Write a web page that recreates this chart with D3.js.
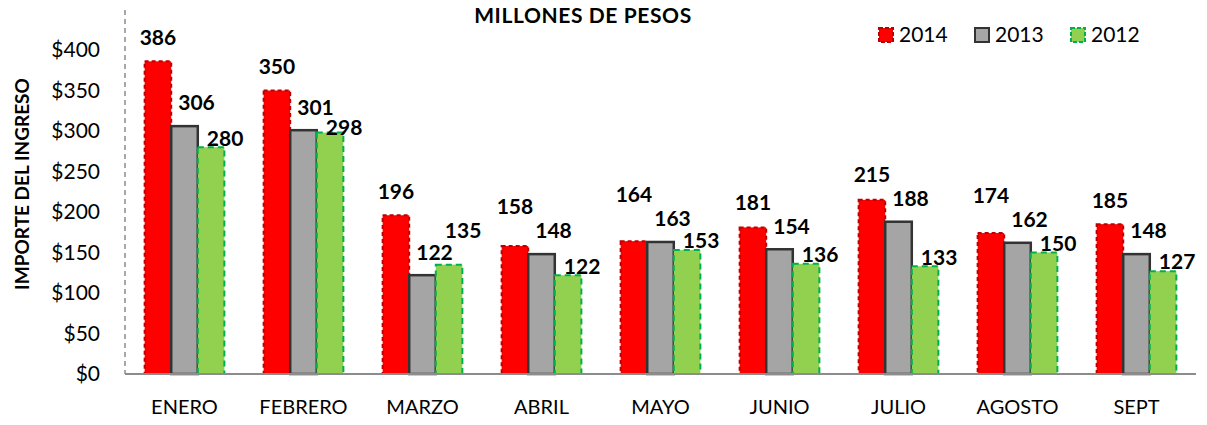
<!DOCTYPE html>
<html>
<head>
<meta charset="utf-8">
<script src="https://cdn.jsdelivr.net/npm/d3@7"></script>
<style>
  body { margin: 0; background: #fff; }
  text { font-family: Lato, "Open Sans", sans-serif; fill: #000; }
</style>
</head>
<body>
<div id="chart"></div>
<script>
// Data
const months = ["ENERO", "FEBRERO", "MARZO", "ABRIL", "MAYO", "JUNIO", "JULIO", "AGOSTO", "SEPT"];
const years = ["2014", "2013", "2012"];
const values2014 = [386, 350, 196, 158, 164, 181, 215, 174, 185];
const values2013 = [306, 301, 122, 148, 163, 154, 188, 162, 148];
const values2012 = [280, 298, 135, 122, 153, 136, 133, 150, 127];
const yTicks = [0, 50, 100, 150, 200, 250, 300, 350, 400];

const seriesValues = { "2014": values2014, "2013": values2013, "2012": values2012 };

const style = {
    "2014": { fill: "#FF0000", stroke: "#C00000", dash: "4,3", labelDx: 0, labelDy: -24 },
    "2013": { fill: "#A5A5A5", stroke: "#333333", dash: null, labelDx: 12, labelDy: -23 },
    "2012": { fill: "#92D050", stroke: "#00B050", dash: "6,4", labelDx: 14, labelDy: -9 },
};

const width = 1207, height = 425;
const margin = { top: 50, right: 11, bottom: 51, left: 125 };

const svg = d3.select("#chart")
    .append("svg")
    .attr("width", width)
    .attr("height", height);

const x0 = d3.scaleBand()
    .domain(months)
    .range([margin.left, width - margin.right]);

const bw = x0.bandwidth();
const x1 = d3.scaleBand()
    .domain(years)
    .range([bw * 0.165, bw * 0.835]);

const y = d3.scaleLinear()
    .domain([0, 400])
    .range([height - margin.bottom, margin.top]);

// Dashed vertical axis
svg.append("line")
    .attr("x1", margin.left).attr("x2", margin.left)
    .attr("y1", 10).attr("y2", y(0))
    .attr("stroke", "#8c8c8c")
    .attr("stroke-width", 1.5)
    .attr("stroke-dasharray", "5,4");

// Y tick labels
svg.append("g")
    .selectAll("text")
    .data(yTicks)
    .join("text")
    .attr("x", 100)
    .attr("y", d => y(d))
    .attr("dy", "0.35em")
    .attr("text-anchor", "end")
    .attr("font-size", 21)
    .text(d => "$" + d);

// Bars
const groups = svg.append("g")
    .selectAll("g")
    .data(months)
    .join("g")
    .attr("transform", d => `translate(${x0(d)},0)`);

groups.selectAll("rect")
    .data((m, i) => years.map(yr => ({ year: yr, value: seriesValues[yr][i] })))
    .join("rect")
    .attr("x", d => x1(d.year))
    .attr("y", d => y(d.value))
    .attr("width", x1.bandwidth())
    .attr("height", d => y(0) - y(d.value))
    .attr("fill", d => style[d.year].fill)
    .attr("stroke", d => style[d.year].stroke)
    .attr("stroke-width", d => d.year === "2013" ? 2.5 : 2)
    .attr("stroke-dasharray", d => style[d.year].dash);

// Value labels: default spot above each bar, then nudge apart when they collide
function labelLayout(i) {
    const pos = {};
    years.forEach(yr => {
        const v = seriesValues[yr][i];
        pos[yr] = {
            year: yr,
            value: v,
            x: x1(yr) + x1.bandwidth() / 2 + style[yr].labelDx,
            cy: y(v) + style[yr].labelDy,
        };
    });
    const a = pos["2013"], b = pos["2012"];
    if (Math.abs(a.cy - b.cy) < 20) {
        if (b.value > a.value) b.cy = a.cy - 22;
        else b.cy = a.cy + 20;
    }
    const r = pos["2014"];
    if (r.cy > a.cy - 24 && Math.abs(r.x - a.x) < 43) r.cy = a.cy - 24;
    return years.map(yr => pos[yr]);
}

groups.selectAll("text")
    .data((m, i) => labelLayout(i))
    .join("text")
    .attr("x", d => d.x)
    .attr("y", d => d.cy)
    .attr("dy", "0.35em")
    .attr("text-anchor", "middle")
    .attr("font-size", 21)
    .attr("font-weight", "bold")
    .text(d => d.value);

// Baseline
svg.append("line")
    .attr("x1", margin.left).attr("x2", width - margin.right)
    .attr("y1", y(0)).attr("y2", y(0))
    .attr("stroke", "#8c8c8c")
    .attr("stroke-width", 2);

// Month labels
svg.append("g")
    .selectAll("text")
    .data(months)
    .join("text")
    .attr("x", d => x0(d) + bw / 2)
    .attr("y", 414)
    .attr("text-anchor", "middle")
    .attr("font-size", 20)
    .text(d => d);

// Title
svg.append("text")
    .attr("x", 583)
    .attr("y", 23)
    .attr("text-anchor", "middle")
    .attr("font-size", 21)
    .attr("font-weight", "bold")
    .attr("letter-spacing", 0.6)
    .text("MILLONES DE PESOS");

// Y axis title
svg.append("text")
    .attr("transform", "translate(29,184) rotate(-90)")
    .attr("text-anchor", "middle")
    .attr("font-size", 19)
    .attr("font-weight", "bold")
    .text("IMPORTE DEL INGRESO");

// Legend
const legend = svg.append("g")
    .selectAll("g")
    .data(years)
    .join("g")
    .attr("transform", (d, i) => `translate(${879 + i * 96},28)`);

legend.append("rect")
    .attr("width", 14)
    .attr("height", 14)
    .attr("fill", d => style[d].fill)
    .attr("stroke", d => style[d].stroke)
    .attr("stroke-width", 2)
    .attr("stroke-dasharray", d => style[d].dash ? "4,2" : null);

legend.append("text")
    .attr("x", 20)
    .attr("y", 7)
    .attr("dy", "0.35em")
    .attr("font-size", 21)
    .text(d => d);
</script>
</body>
</html>
